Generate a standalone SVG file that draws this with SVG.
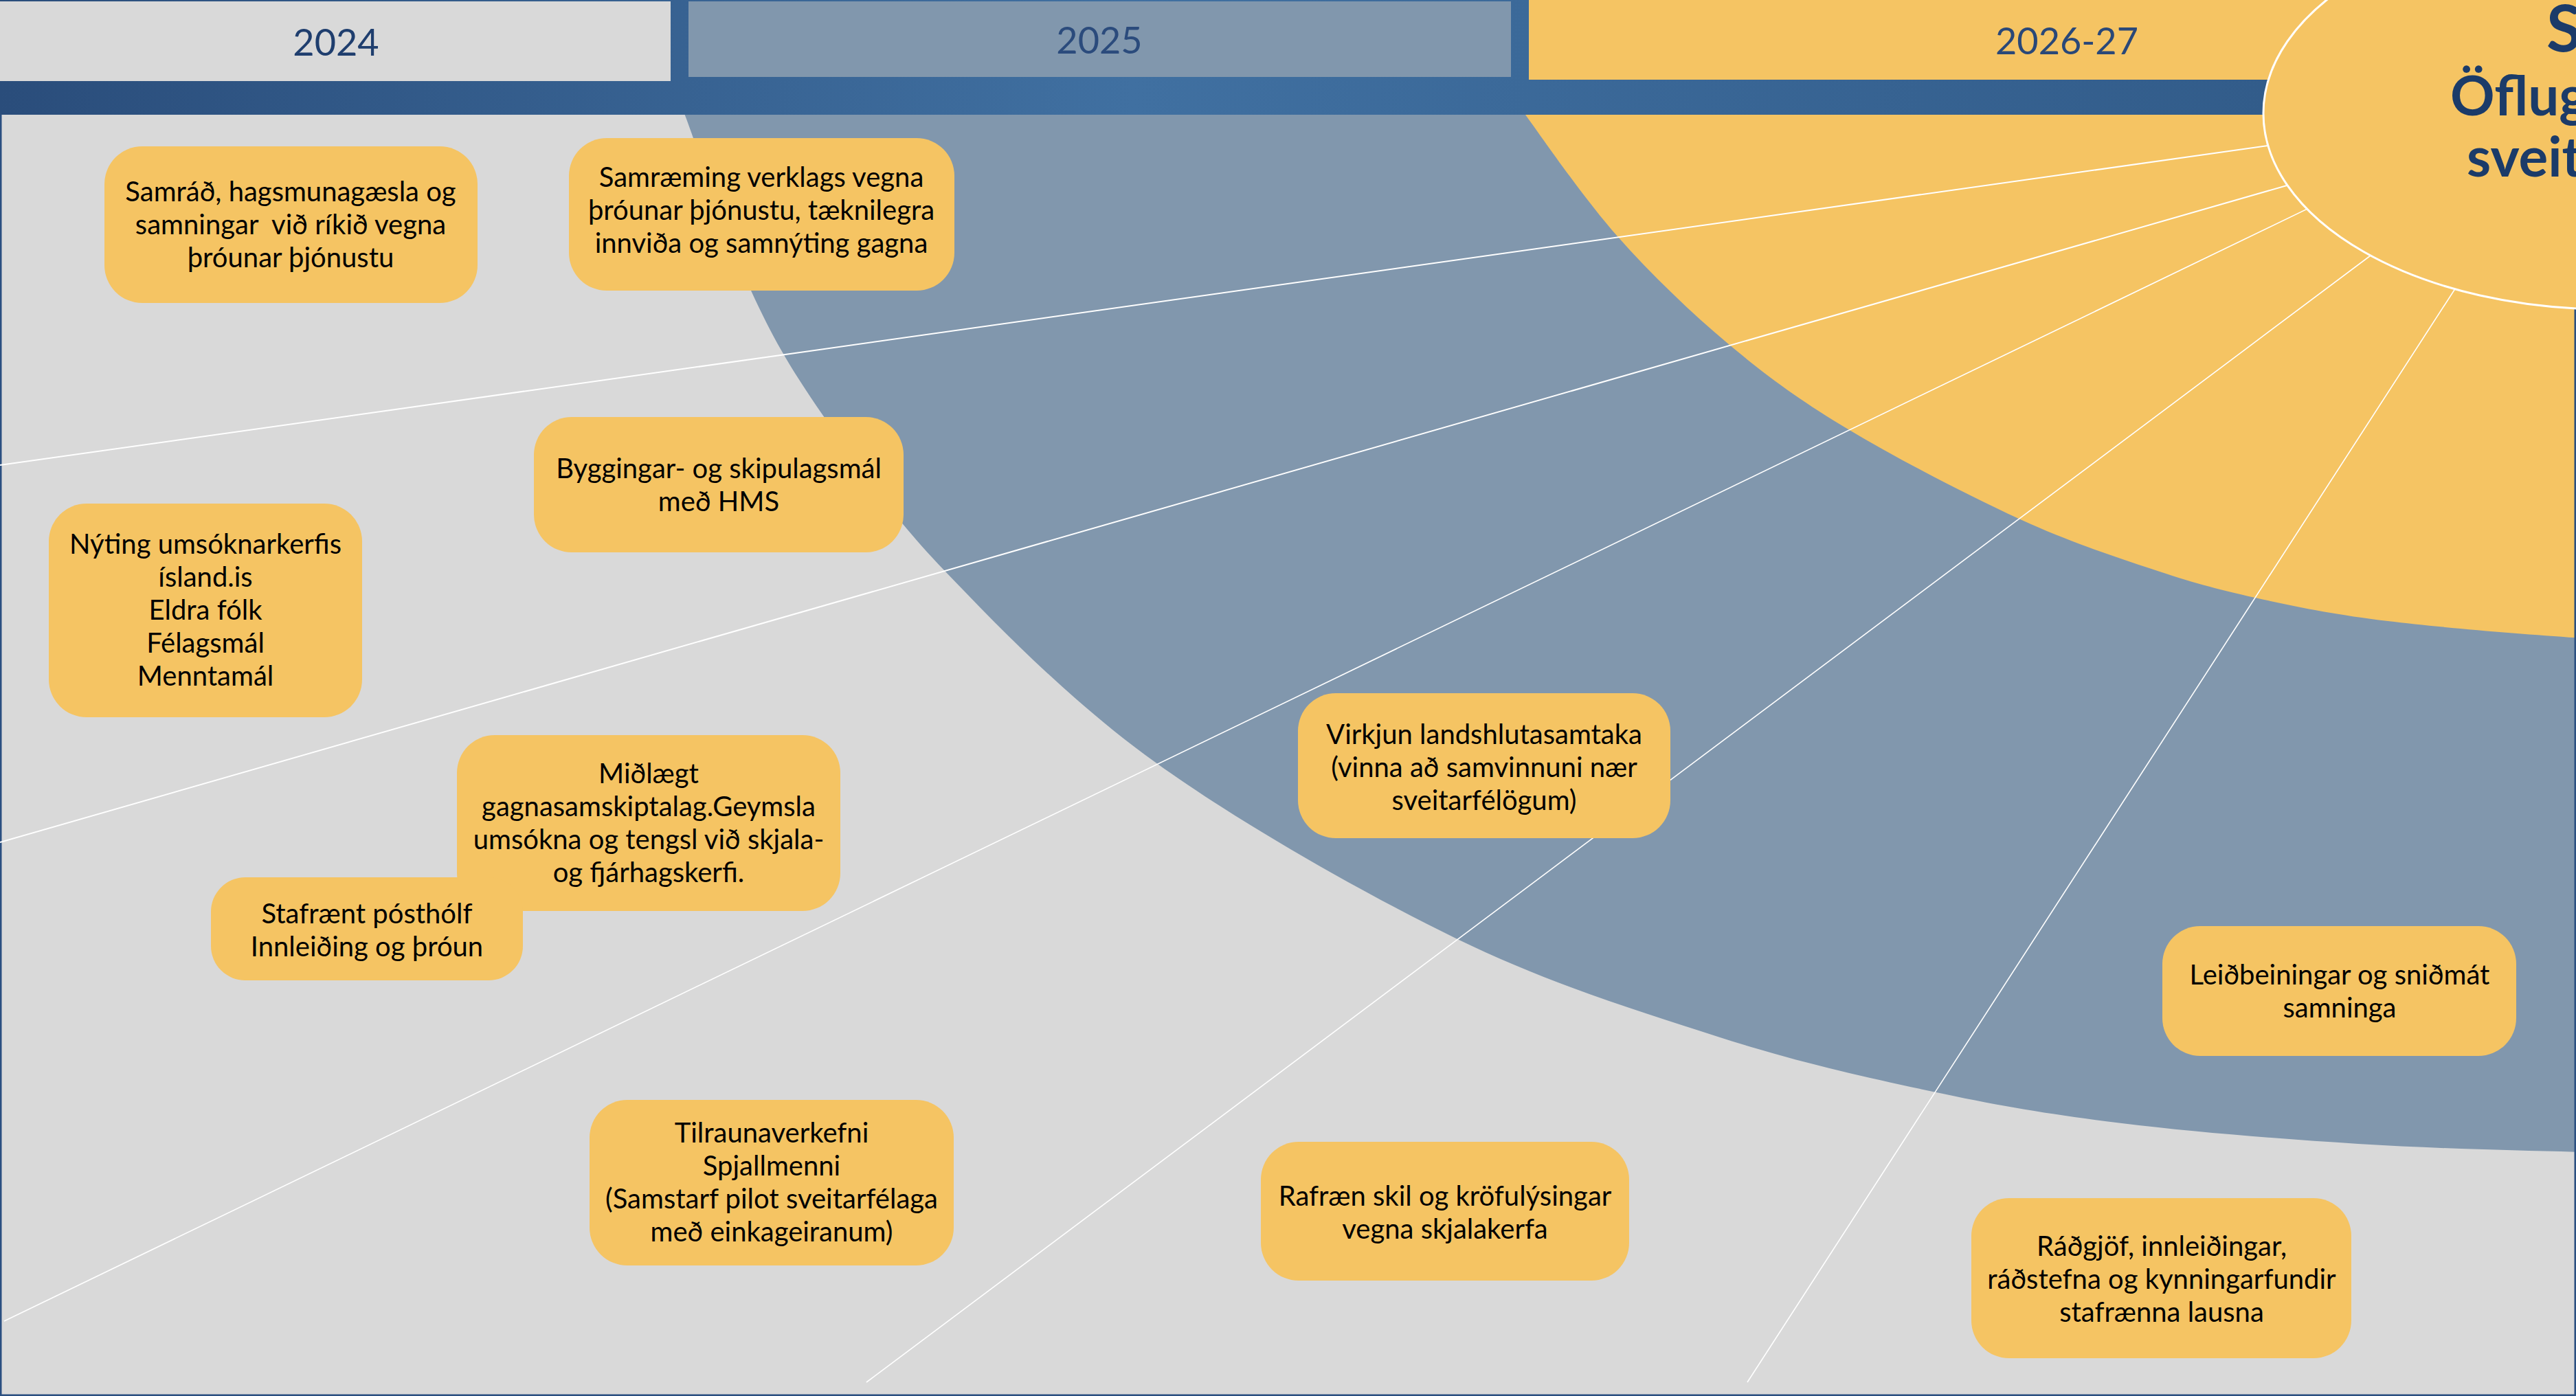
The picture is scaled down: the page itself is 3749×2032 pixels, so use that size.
<svg xmlns="http://www.w3.org/2000/svg" width="3749" height="2032" viewBox="0 0 3749 2032">
<defs>
<style>
.bg{fill:#d9d9d9}
.mid{fill:#8197ad}
.sun{fill:#f5c463}
.ray{stroke:#ffffff;stroke-width:1.6;fill:none}
.ray.w{stroke-width:2}
.node rect{fill:#f5c463}
.node text{font-family:Lato,"Liberation Sans",sans-serif;font-size:40px;fill:#000000;text-anchor:middle}
.year{font-family:Lato,"Liberation Sans",sans-serif;font-size:54px;text-anchor:middle}
.title{font-family:Lato,"Liberation Sans",sans-serif;font-weight:bold;fill:#1b3b69}
</style>
<linearGradient id="band" x1="0" y1="0" x2="3300" y2="0" gradientUnits="userSpaceOnUse">
<stop offset="0" stop-color="#2a4d7b"/>
<stop offset="0.5" stop-color="#4070a1"/>
<stop offset="1" stop-color="#325c8a"/>
</linearGradient>
</defs>

<rect class="bg" x="0" y="0" width="3749" height="2032"/>

<g id="zones">
<path class="mid" d="M 975,100 L 997,168 C 1015,215 1059.5,350.2 1093,423 C 1126.5,495.8 1151.2,537.2 1198,605 C 1244.8,672.8 1293.3,745.8 1374,830 C 1454.7,914.2 1557.8,1020.7 1682,1110 C 1806.2,1199.3 1982.7,1299.5 2119,1366 C 2255.3,1432.5 2384.3,1471.8 2500,1509 C 2615.7,1546.2 2715,1568 2813,1589 C 2911,1610 2984.8,1622.3 3088,1635 C 3191.2,1647.7 3320,1658 3432,1665 C 3544,1672 3665.3,1674.5 3760,1677 L 3760,0 L 975,0 Z"/>
<path class="sun" d="M 2195,100 L 2220,167 C 2244.8,201 2304.5,288.2 2354,344 C 2403.5,399.8 2461,455.2 2517,502 C 2573,548.8 2619.8,582.7 2690,625 C 2760.2,667.3 2864.5,721.2 2938,755 C 3011.5,788.8 3073.7,808.8 3131,828 C 3188.3,847.2 3224.7,857.3 3282,870 C 3339.3,882.7 3395.3,894.2 3475,904 C 3554.7,913.8 3680.8,923.8 3760,929 L 3760,0 L 2195,0 Z"/>
</g>

<rect x="1.25" y="1.25" width="3746.5" height="2029.5" fill="none" stroke="#2a4f80" stroke-width="2.5"/>

<g id="connectors">
<line class="ray w" x1="3330" y1="207.9" x2="0" y2="677"/>
<line class="ray w" x1="3350" y1="263.7" x2="0" y2="1226"/>
<line class="ray" x1="3380" y1="293.4" x2="6" y2="1923"/>
<line class="ray" x1="3470" y1="357" x2="1261" y2="2012"/>
<line class="ray" x1="3582" y1="406.5" x2="2543" y2="2012"/>
</g>

<g id="header">
<rect x="0" y="0" width="3420" height="167" fill="url(#band)"/>
<rect x="0" y="2" width="976" height="116" fill="#d9d9d9"/>
<rect x="1002" y="2" width="1197" height="110" fill="#8197ad"/>
<rect class="sun" x="2225" y="0" width="1524" height="116"/>
<text class="year" x="489" y="81" fill="#1f3e6e">2024</text>
<text class="year" x="1600" y="78" fill="#2b4b7c">2025</text>
<text class="year" x="3008" y="79" fill="#2a4878">2026-27</text>
</g>

<g id="title">
<ellipse cx="3793" cy="165" rx="499" ry="285" fill="#f5c463" stroke="#ffffff" stroke-width="3"/>
<text class="title" x="3706" y="75" font-size="94">S</text>
<text class="title" x="3566" y="168" font-size="80">Öflug</text>
<text class="title" x="3590" y="257" font-size="80">sveit</text>
</g>

<g id="node-samrad" class="node">
<rect x="152" y="213" width="543" height="228" rx="55"/>
<text x="423" y="293" xml:space="preserve"><tspan x="423">Samráð, hagsmunagæsla og</tspan><tspan x="423" dy="48">samningar  við ríkið vegna</tspan><tspan x="423" dy="48">þróunar þjónustu</tspan></text>
</g>

<g id="node-samraeming" class="node">
<rect x="828" y="201" width="561" height="222" rx="55"/>
<text x="1108" y="272"><tspan x="1108">Samræming verklags vegna</tspan><tspan x="1108" dy="48">þróunar þjónustu, tæknilegra</tspan><tspan x="1108" dy="48">innviða og samnýting gagna</tspan></text>
</g>

<g id="node-byggingar" class="node">
<rect x="777" y="607" width="538" height="197" rx="55"/>
<text x="1046" y="696"><tspan x="1046">Byggingar- og skipulagsmál</tspan><tspan x="1046" dy="48">með HMS</tspan></text>
</g>

<g id="node-nyting" class="node">
<rect x="71" y="733" width="456" height="311" rx="55"/>
<text x="299" y="806"><tspan x="299">Nýting umsóknarkerfis</tspan><tspan x="299" dy="48">ísland.is</tspan><tspan x="299" dy="48">Eldra fólk</tspan><tspan x="299" dy="48">Félagsmál</tspan><tspan x="299" dy="48">Menntamál</tspan></text>
</g>

<g id="node-midlaegt" class="node">
<rect x="665" y="1070" width="558" height="256" rx="55"/>
<text x="944" y="1140"><tspan x="944">Miðlægt</tspan><tspan x="944" dy="48">gagnasamskiptalag.Geymsla</tspan><tspan x="944" dy="48">umsókna og tengsl við skjala-</tspan><tspan x="944" dy="48">og fjárhagskerfi.</tspan></text>
</g>

<g id="node-stafraent" class="node">
<rect x="307" y="1277" width="454" height="150" rx="50"/>
<text x="534" y="1344"><tspan x="534">Stafrænt pósthólf</tspan><tspan x="534" dy="48">Innleiðing og þróun</tspan></text>
</g>

<g id="node-virkjun" class="node">
<rect x="1889" y="1009" width="542" height="211" rx="55"/>
<text x="2160" y="1083"><tspan x="2160">Virkjun landshlutasamtaka</tspan><tspan x="2160" dy="48">(vinna að samvinnuni nær</tspan><tspan x="2160" dy="48">sveitarfélögum)</tspan></text>
</g>

<g id="node-leidbeiningar" class="node">
<rect x="3147" y="1348" width="515" height="189" rx="55"/>
<text x="3405" y="1433"><tspan x="3405">Leiðbeiningar og sniðmát</tspan><tspan x="3405" dy="48">samninga</tspan></text>
</g>

<g id="node-tilrauna" class="node">
<rect x="858" y="1601" width="530" height="241" rx="55"/>
<text x="1123" y="1663"><tspan x="1123">Tilraunaverkefni</tspan><tspan x="1123" dy="48">Spjallmenni</tspan><tspan x="1123" dy="48">(Samstarf pilot sveitarfélaga</tspan><tspan x="1123" dy="48">með einkageiranum)</tspan></text>
</g>

<g id="node-rafraen" class="node">
<rect x="1835" y="1662" width="536" height="202" rx="55"/>
<text x="2103" y="1755"><tspan x="2103">Rafræn skil og kröfulýsingar</tspan><tspan x="2103" dy="48">vegna skjalakerfa</tspan></text>
</g>

<g id="node-radgjof" class="node">
<rect x="2869" y="1744" width="553" height="233" rx="55"/>
<text x="3146" y="1828"><tspan x="3146">Ráðgjöf, innleiðingar,</tspan><tspan x="3146" dy="48">ráðstefna og kynningarfundir</tspan><tspan x="3146" dy="48">stafrænna lausna</tspan></text>
</g>
</svg>
